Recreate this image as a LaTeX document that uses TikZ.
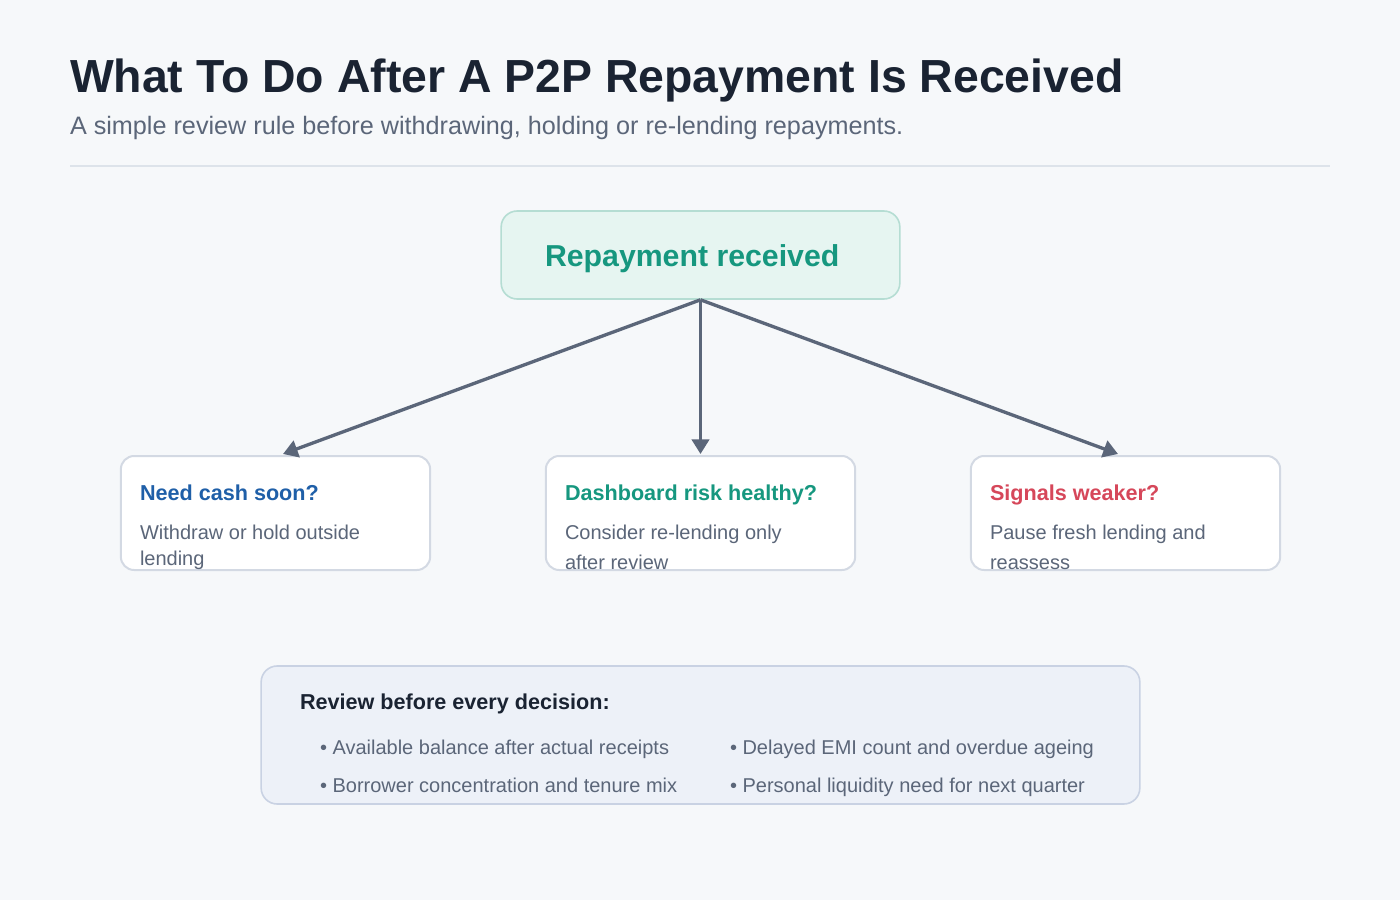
\documentclass[tikz,border=0pt]{standalone}
\usepackage{fontspec}
\setmainfont{Liberation Sans}
\usetikzlibrary{arrows.meta}
\definecolor{bg}{HTML}{F6F8FA}
\definecolor{titlec}{HTML}{1A2332}
\definecolor{subc}{HTML}{5B6679}
\definecolor{rulec}{HTML}{DDE3EA}
\definecolor{teal}{HTML}{16977F}
\definecolor{tealfill}{HTML}{E6F5F1}
\definecolor{tealline}{HTML}{B5DDD3}
\definecolor{boxline}{HTML}{D3D9E3}
\definecolor{bluec}{HTML}{1F5FA8}
\definecolor{redc}{HTML}{D6475A}
\definecolor{arrowc}{HTML}{5B6679}
\definecolor{notefill}{HTML}{EDF1F8}
\definecolor{noteline}{HTML}{C9D2E3}
\tikzset{
  txt/.style={anchor=base west, inner sep=0pt, outer sep=0pt},
  cardbox/.style={draw=boxline, line width=1.5pt, fill=white, rounded corners=10pt, inner sep=0pt, minimum width=232pt, minimum height=85.5pt},
  head/.style={txt, font=\bfseries\fontsize{16.2}{19}\selectfont},
  body/.style={txt, font=\fontsize{15}{18}\selectfont, text=subc},
  conn/.style={draw=arrowc, line width=2.5pt, -{Triangle[width=13pt,length=11pt]}}
}
\begin{document}
\begin{tikzpicture}[x=0.75pt,y=-0.75pt]
\fill[bg] (0,0) rectangle (1400,900);
\useasboundingbox (0,0) rectangle (1400,900);
% title
\node[txt, font=\bfseries\fontsize{34.8}{40}\selectfont, text=titlec] (title) at (70,92) {What To Do After A P2P Repayment Is Received};
\node[txt, font=\fontsize{18.9}{22}\selectfont, text=subc] (sub) at (70,134) {A simple review rule before withdrawing, holding or re-lending repayments.};
\draw[rulec, line width=1.5pt] (70,165.5) -- (1330,165.5);
% top node
\node[draw=tealline, line width=1.2pt, fill=tealfill, rounded corners=12pt, minimum width=299pt, minimum height=66pt, inner sep=0pt] (top) at (700.5,255) {};
\node[txt, font=\bfseries\fontsize{22.7}{26}\selectfont, text=teal] (toptxt) at (545,266) {Repayment received};
% cards
\node[cardbox] (c1) at (275.5,513) {};
\node[cardbox] (c2) at (700.5,513) {};
\node[cardbox] (c3) at (1125.5,513) {};
\coordinate (e1) at (283,454);
\coordinate (e2) at (700.5,454);
\coordinate (e3) at (1118,454);
\draw[conn] (top.south) -- (e1);
\draw[conn] (top.south) -- (e2);
\draw[conn] (top.south) -- (e3);
\node[head, text=bluec] (h1) at (140,500) {Need cash soon?};
\node[body] (b1a) at (140,539) {Withdraw or hold outside};
\node[body] (b1b) at (140,565) {lending};
\node[head, text=teal] (h2) at (565,500) {Dashboard risk healthy?};
\node[body] (b2a) at (565,539) {Consider re-lending only};
\node[body] (b2b) at (565,569) {after review};
\node[head, text=redc] (h3) at (990,500) {Signals weaker?};
\node[body] (b3a) at (990,539) {Pause fresh lending and};
\node[body] (b3b) at (990,569) {reassess};
% note box
\node[draw=noteline, line width=1.2pt, fill=notefill, rounded corners=12pt, minimum width=659pt, minimum height=103.5pt, inner sep=0pt] (note) at (700.5,735) {};
\node[head, text=titlec] (nh) at (300,709) {Review before every decision:};
\node[body] (n1) at (320,754) {• Available balance after actual receipts};
\node[body] (n2) at (320,792) {• Borrower concentration and tenure mix};
\node[body] (n3) at (730,754) {• Delayed EMI count and overdue ageing};
\node[body] (n4) at (730,792) {• Personal liquidity need for next quarter};
\end{tikzpicture}
\end{document}
